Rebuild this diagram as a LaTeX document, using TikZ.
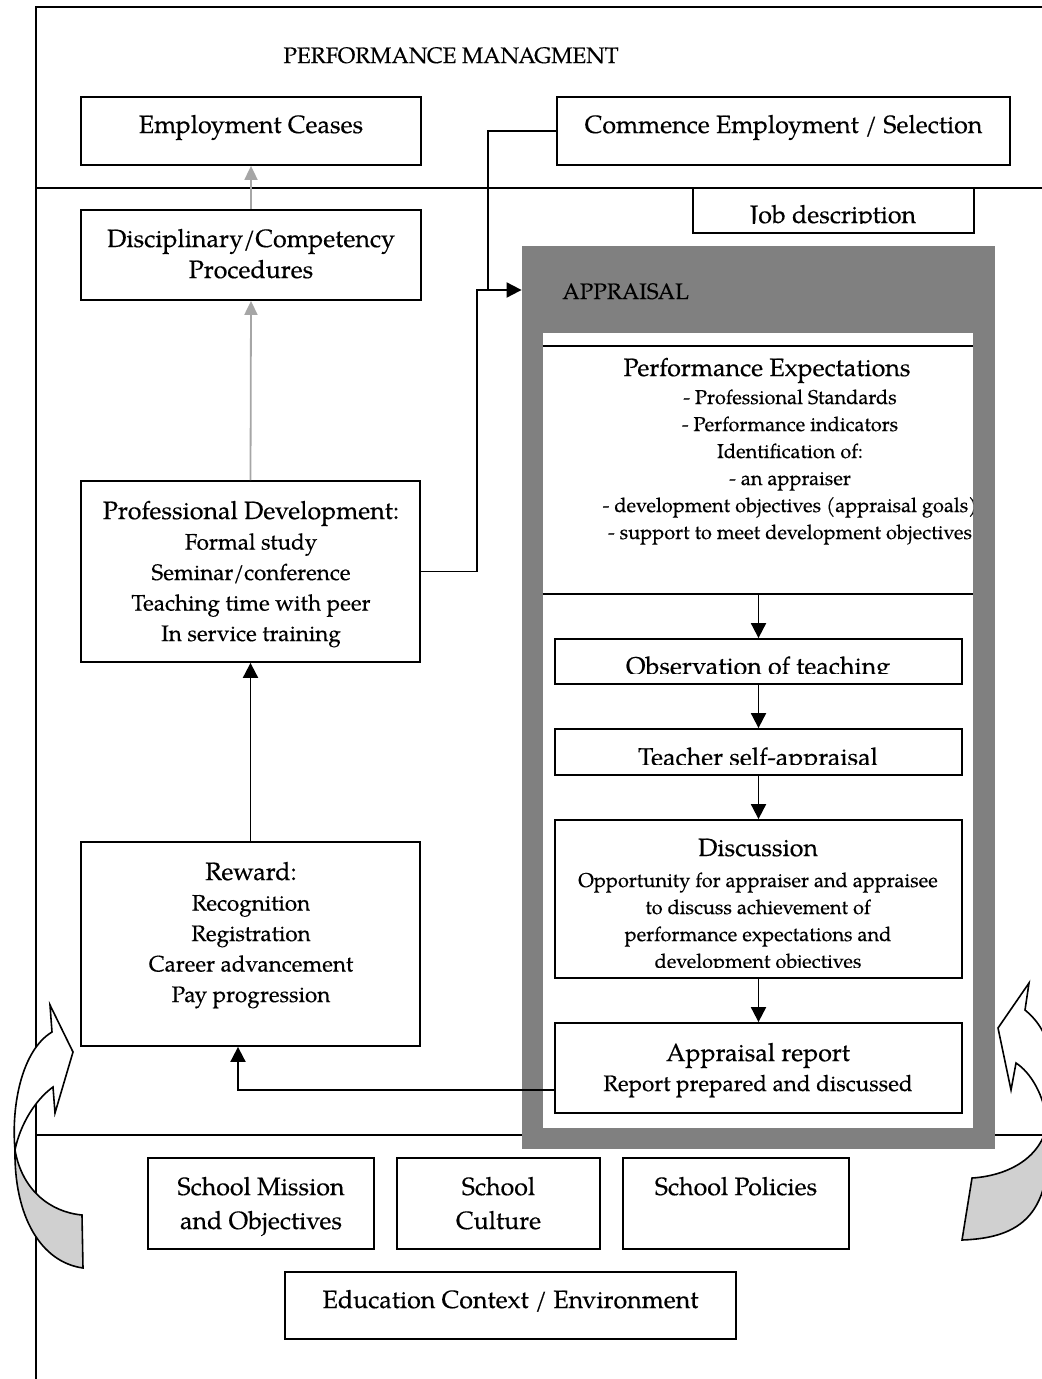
\documentclass[tikz,border=0pt]{standalone}
\usepackage{fontspec}
\setmainfont{texgyrepagella}[Extension=.otf,UprightFont=*-regular,BoldFont=*-bold,ItalicFont=*-italic,BoldItalicFont=*-bolditalic,FakeBold=0.35]
\usetikzlibrary{arrows.meta,fit}
\definecolor{apgray}{HTML}{808080}
\definecolor{arrowgray}{HTML}{A6A6A6}
\definecolor{ribbongray}{HTML}{D0D0D0}
\begin{document}
\begin{tikzpicture}[x=0.5pt,y=-0.5pt,
  frame/.style={line width=0.95pt},
  box/.style={draw, line width=0.9pt, inner sep=0pt},
  lbl/.style={inner sep=0pt, align=center, anchor=base},
  ttl/.style={font=\fontsize{12.5}{15.5}\selectfont},
  bod/.style={font=\fontsize{11.2}{15.25}\selectfont},
  sml/.style={font=\fontsize{10}{13.5}\selectfont},
  link/.style={line width=0.95pt},
  arr/.style={line width=0.95pt, -{Triangle[length=7.5pt,width=7.5pt]}},
  garr/.style={line width=0.9pt, draw=arrowgray, -{Triangle[length=7pt,width=6.5pt,fill=arrowgray]}},
  ribbonfront/.style={line width=0.8pt, fill=white, line join=miter},
  ribbonback/.style={line width=0.8pt, fill=ribbongray, line join=miter}]

\clip (0,0) rectangle (1042,1379);

% outer frame and section rules
\draw[frame] (1042,7) -- (36,7) -- (36,1379);
\draw[frame] (36,188) -- (1042,188);
\draw[frame] (36,1135) -- (1042,1135);

% top band
\node[lbl, bod] (pm-t) at (451,63) {PERFORMANCE MANAGMENT};
\node[box, fit={(81,97) (421,165)}] (ec) {};
\node[box, fit={(557,97) (1010,165)}] (cm) {};
\node[lbl, ttl] (ec-t) at (251,133) {Employment Ceases};
\node[lbl, ttl] (cm-t) at (783.5,133) {Commence Employment / Selection};

% job description
\node[box, fill=white, fit={(693,188) (974,233)}] (jd) {};
\begin{scope}
  \clip (693,188) rectangle (974,224);
  \node[lbl, ttl] (jd-t) at (833,223) {Job description};
\end{scope}

% left column (multi-line labels are placed by their last baseline)
\node[box, fit={(81,210) (421,300)}] (dp) {};
\node[lbl, ttl] (dp-t) at (251,278) {Disciplinary/Competency\\Procedures};
\node[box, fit={(81,481) (420,662)}] (pd) {};
\node[lbl, bod] (pd-t) at (251,641) {{\fontsize{12.5}{15.25}\selectfont Professional Development:}\\Formal study\\Seminar/conference\\Teaching time with peer\\In service training};
\node[box, fit={(81,842) (420,1046)}] (rw) {};
\node[lbl, bod] (rw-t) at (251,1002) {{\fontsize{12.5}{15.25}\selectfont Reward:}\\Recognition\\Registration\\Career advancement\\Pay progression};

% appraisal panel
\node[fill=apgray, inner sep=0pt, fit={(522,246) (995,1149)}] (apr) {};
\node[fill=white, inner sep=0pt, fit={(543,333) (973,1128)}] (apin) {};
\node[lbl, bod, anchor=base west] (apr-t) at (562,299) {APPRAISAL};

% performance expectations
\node[inner sep=0pt, fit={(543,346) (973,594)}] (pe) {};
\draw[link] (pe.north west) -- (pe.north east);
\draw[link] (pe.south west) -- (pe.south east);
\begin{scope}
  \clip (543,333) rectangle (973,1128);
  \node[lbl, ttl] (pe-t) at (767,376) {Performance Expectations};
  \node[lbl, sml] (pe-l) at (790,539) {- Professional Standards\\- Performance indicators\\Identification of:\\- an appraiser\\- development objectives (appraisal goals)\\- support to meet development objectives};
\end{scope}

% appraisal steps
\node[box, fit={(555,639) (962,684)}] (ob) {};
\node[box, fit={(555,729) (962,775)}] (ts) {};
\node[box, fit={(555,820) (962,978)}] (ds) {};
\node[box, fit={(555,1023) (962,1113)}] (rp) {};
\begin{scope}
  \clip (555,639) rectangle (962,673);
  \node[lbl, ttl] (ob-t) at (758,674.5) {Observation of teaching};
\end{scope}
\begin{scope}
  \clip (555,729) rectangle (962,764);
  \node[lbl, ttl] (ts-t) at (758,765.5) {Teacher self-appraisal};
\end{scope}
\begin{scope}
  \clip (555,820) rectangle (962,967);
  \node[lbl, ttl] (ds-t) at (758,856) {Discussion};
  \node[lbl, sml] (ds-l) at (758,968) {Opportunity for appraiser and appraisee\\to discuss achievement of\\performance expectations and\\development objectives};
\end{scope}
\node[lbl, ttl] (rp-t) at (758,1061) {Appraisal report};
\node[lbl, bod] (rp-l) at (758,1091) {Report prepared and discussed};

\draw[arr] (pe.south -| ob.north) -- (ob.north);
\draw[arr] (ob.south) -- (ts.north);
\draw[arr] (ts.south) -- (ds.north);
\draw[arr] (ds.south) -- (rp.north);

% connectors between the columns
\coordinate (j1) at (488,290);
\coordinate (j2) at (477,290);
\coordinate (j3) at (238,1090);
\draw[link] (cm.west) -| (j1);
\draw[link] (pd.east) -| (j2) -- (j1);
\draw[arr] (j1) -- (j1 -| apr.west);
\draw[arr] (rp.west |- j3) -- (j3) -- (j3 |- rw.south);
\draw[arr] (rw.north) -- (pd.south);
\draw[garr] (pd.north) -- (dp.south);
\draw[garr] (dp.north) -- (ec.south);

% school context
\node[box, fit={(148,1158) (374,1249)}] (sm) {};
\node[box, fit={(397,1158) (600,1249)}] (sc) {};
\node[box, fit={(623,1158) (849,1249)}] (sp) {};
\node[box, fit={(285,1272) (736,1339)}] (ed) {};
\node[lbl, font=\fontsize{12.5}{17}\selectfont] (sm-t) at (261,1229) {School Mission\\and Objectives};
\node[lbl, font=\fontsize{12.5}{17}\selectfont] (sc-t) at (498.5,1229) {School\\Culture};
\node[lbl, ttl] (sp-t) at (736,1195) {School Policies};
\node[lbl, ttl] (ed-t) at (510.5,1308) {Education Context / Environment};

% curled arrow, left
\filldraw[ribbonback] (15,1150) .. controls (14,1215) and (40,1262) .. (83,1268)
  -- (82,1215) .. controls (50,1212) and (22,1190) .. (15,1150) -- cycle;
\filldraw[ribbonfront] (15,1150) .. controls (11,1105) and (22,1050) .. (52,1032)
  -- (50,1005) -- (73,1052) -- (55,1113) -- (53,1087)
  .. controls (35,1100) and (20,1125) .. (15,1150) -- cycle;

% curled arrow, right
\filldraw[ribbonback] (1047,1125) .. controls (1040,1160) and (1005,1176) .. (972,1178)
  -- (962,1240) .. controls (1020,1238) and (1055,1215) .. (1047,1125) -- cycle;
\filldraw[ribbonfront] (1047,1125) .. controls (1053,1065) and (1055,1035) .. (1025,1010)
  -- (1029,983) -- (998,1028) -- (1011,1090) -- (1016,1063)
  .. controls (1030,1072) and (1045,1095) .. (1047,1125) -- cycle;
\end{tikzpicture}
\end{document}
